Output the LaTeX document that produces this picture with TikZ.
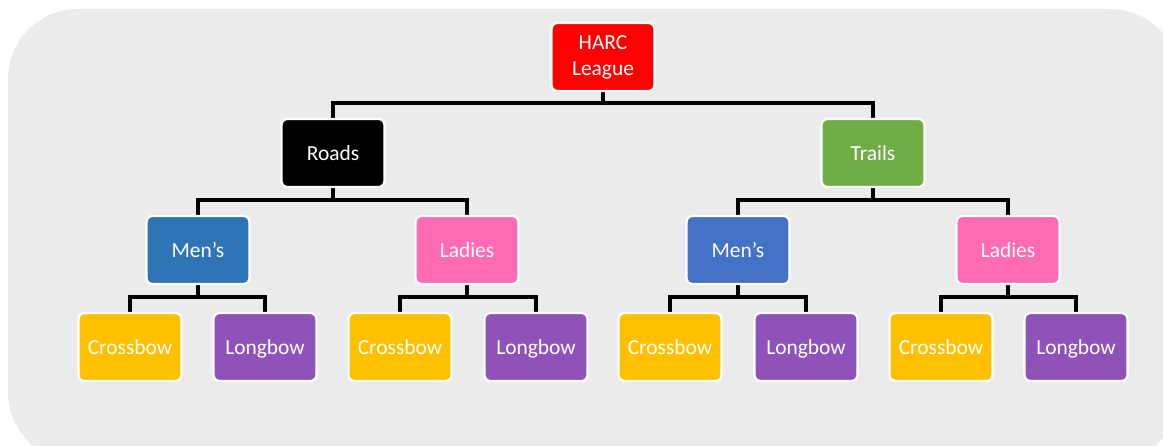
\documentclass[tikz,border=0pt]{standalone}
\usepackage{fontspec}
\setmainfont{Carlito}
\usetikzlibrary{positioning}
\usetikzlibrary{backgrounds}

\definecolor{bggray}{HTML}{EBEBEB}
\definecolor{harcred}{HTML}{FF0000}
\definecolor{trailgreen}{HTML}{70AD47}
\definecolor{menblueA}{HTML}{2E75B6}
\definecolor{menblueB}{HTML}{4472C4}
\definecolor{ladypink}{HTML}{FF6BB5}
\definecolor{crossgold}{HTML}{FFC000}
\definecolor{longpurple}{HTML}{8F52B8}

\begin{document}
\begin{tikzpicture}[%
		x=0.02cm, y=-0.02cm,
		box/.style={rectangle, rounded corners=0.12cm, draw=white, line width=0.045cm,
			minimum width=2.06cm, minimum height=1.36cm, text=white, align=center,
			font=\fontsize{12.2}{14.8}\selectfont},
		leaf/.style={box, text height=2.2ex, text depth=0.45ex},
		tree/.style={line width=0.08cm, black}
		]
		% (1163px,446px)
		\useasboundingbox (0,0) rectangle (1163,446);
		%%%%%%%%%%%%%%%
		%    NODES    %
		%%%%%%%%%%%%%%%
		\node[box, fill=harcred] (harc) at (603,57) {HARC\\League};
		
		% Roads
		\node[leaf, fill=black] (roads) at (333,153) {Roads};
		\node[leaf, fill=menblueA] (rmen) at (198,250) {Men’s};
		\node[leaf, fill=ladypink] (rlad) at (467,250) {Ladies};
		\node[leaf, fill=crossgold] (rmcross) at (130,347) {Crossbow};
		\node[leaf, fill=longpurple] (rmlong) at (265,347) {Longbow};
		\node[leaf, fill=crossgold] (rlcross) at (400,347) {Crossbow};
		\node[leaf, fill=longpurple] (rllong) at (536,347) {Longbow};
		
		% Trails
		\node[leaf, fill=trailgreen] (trails) at (873,153) {Trails};
		\node[leaf, fill=menblueB] (tmen) at (738,250) {Men’s};
		\node[leaf, fill=ladypink] (tlad) at (1008,250) {Ladies};
		\node[leaf, fill=crossgold] (tmcross) at (670,347) {Crossbow};
		\node[leaf, fill=longpurple] (tmlong) at (806,347) {Longbow};
		\node[leaf, fill=crossgold] (tlcross) at (941,347) {Crossbow};
		\node[leaf, fill=longpurple] (tllong) at (1076,347) {Longbow};
		
		%%%%%%%%%%%%%%%
		% CONNECTIONS %
		%%%%%%%%%%%%%%%
		\coordinate (bara) at (0,103);
		\coordinate (barb) at (0,200);
		\coordinate (barc) at (0,297);
		
		\begin{pgfonlayer}{background}
			% grey panel
			\begin{scope}
				\clip (0,0) rectangle (1163,446);
				\fill[bggray, rounded corners=1.4cm] (8,9) rectangle (1180,462);
			\end{scope}
			
			\draw[tree] (harc.south) -- (harc.south |- bara) -| (roads.north);
			\draw[tree] (harc.south |- bara) -| (trails.north);
			
			\draw[tree] (roads.south) -- (roads.south |- barb) -| (rmen.north);
			\draw[tree] (roads.south |- barb) -| (rlad.north);
			\draw[tree] (trails.south) -- (trails.south |- barb) -| (tmen.north);
			\draw[tree] (trails.south |- barb) -| (tlad.north);
			
			\draw[tree] (rmen.south) -- (rmen.south |- barc) -| (rmcross.north);
			\draw[tree] (rmen.south |- barc) -| (rmlong.north);
			\draw[tree] (rlad.south) -- (rlad.south |- barc) -| (rlcross.north);
			\draw[tree] (rlad.south |- barc) -| (rllong.north);
			\draw[tree] (tmen.south) -- (tmen.south |- barc) -| (tmcross.north);
			\draw[tree] (tmen.south |- barc) -| (tmlong.north);
			\draw[tree] (tlad.south) -- (tlad.south |- barc) -| (tlcross.north);
			\draw[tree] (tlad.south |- barc) -| (tllong.north);
		\end{pgfonlayer}
		
	\end{tikzpicture}
\end{document}
